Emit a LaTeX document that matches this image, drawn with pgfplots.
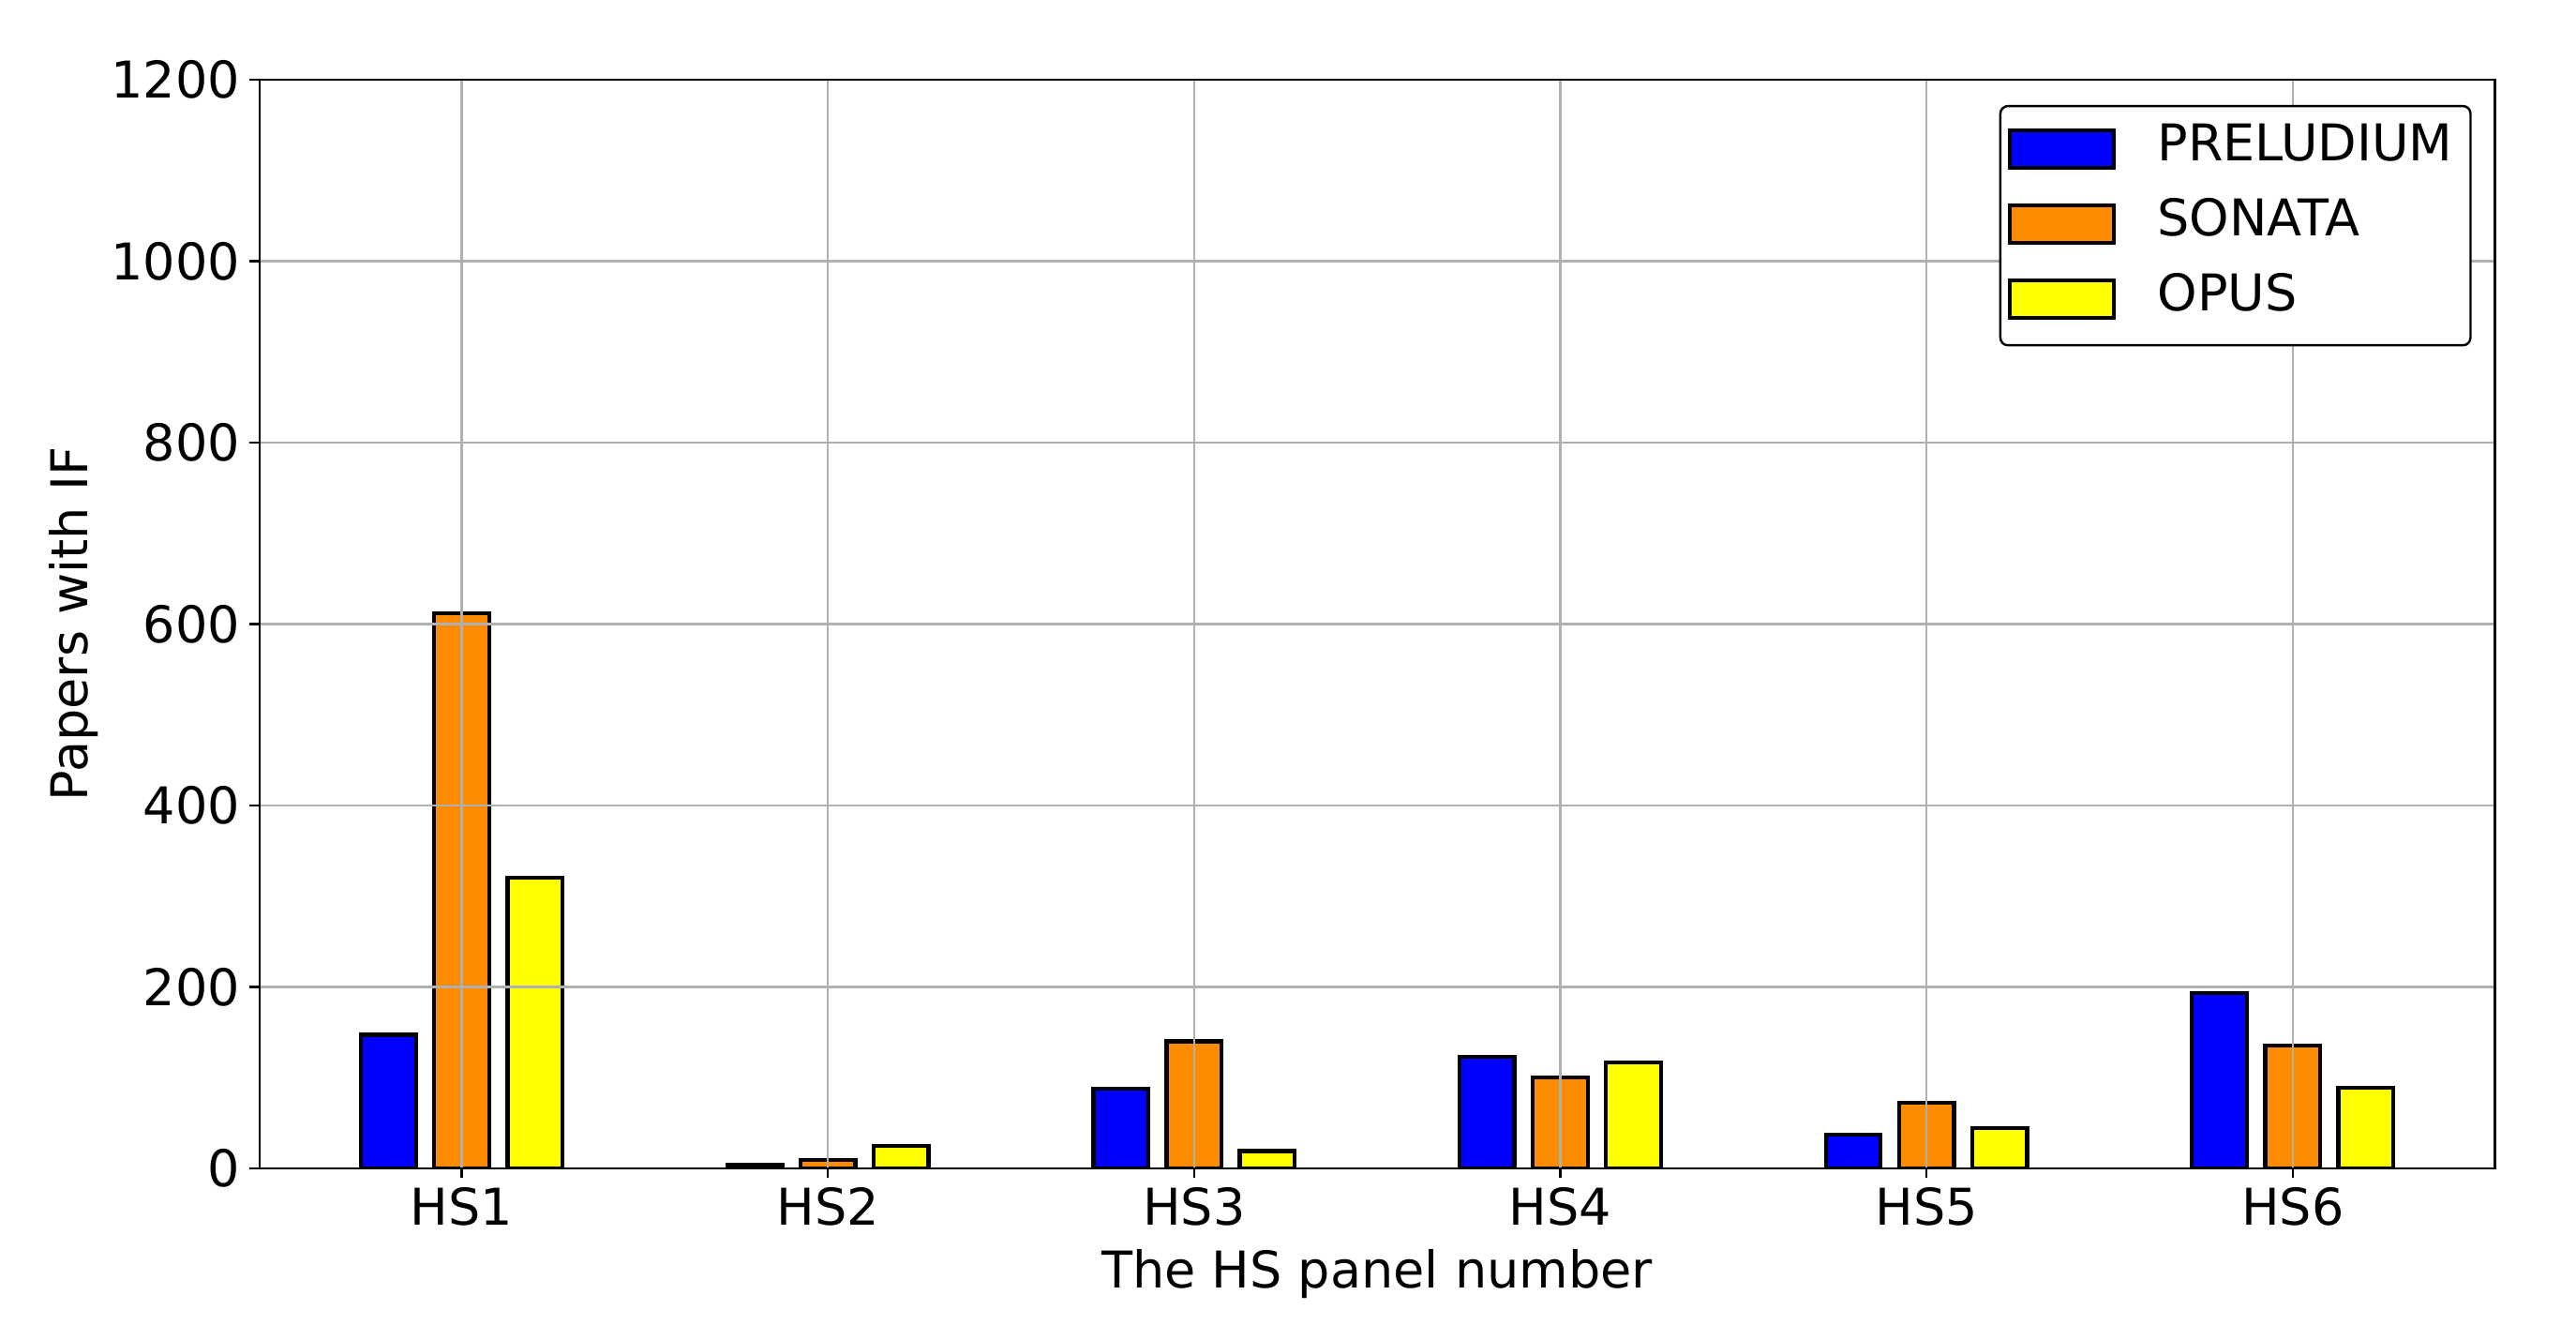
\documentclass[border=0pt]{standalone}
\usepackage{fontspec}
\setmainfont{DejaVu Sans}
\usepackage{pgfplots}
\pgfplotsset{compat=1.18}

\definecolor{barblue}{HTML}{0000FF}
\definecolor{barorange}{HTML}{FF8C00}
\definecolor{baryellow}{HTML}{FFFF00}
\definecolor{gridgray}{HTML}{B0B0B0}

\begin{document}
\begin{tikzpicture}
% fixed page size, matches the reference margins
\useasboundingbox (-51.2pt,-30.9pt) rectangle (457.2pt,230.5pt);
\begin{axis}[
    scale only axis, width=441.2pt, height=214.8pt,
    xmin=-0.5525, xmax=5.5525, ymin=0, ymax=1200,
    ytick={0,200,...,1200},
    xtick={0,1,2,3,4,5},
    xticklabels={HS1,HS2,HS3,HS4,HS5,HS6},
    xtick pos=bottom, ytick pos=left,
    tick align=outside, major tick length=1.94pt,
    tick style={black, line width=0.45pt},
    axis line style={line width=0.45pt},
    grid=major, grid style={gridgray, line width=0.45pt},
    axis on top,
    font=\fontsize{10}{12}\selectfont,
    tick label style={font=\fontsize{10}{12}\selectfont},
    label style={font=\fontsize{10}{12}\selectfont},
    xticklabel shift=-1.6pt, yticklabel shift=-1.6pt,
    xlabel shift=-2.3pt, ylabel shift=-4.4pt,
    /pgf/number format/assume math mode=true,
    /pgf/number format/1000 sep={},
    xlabel={The HS panel number},
    ylabel={Papers with IF},
    ybar, bar width=0.15, bar shift=0pt,
    every axis plot post/.append style={draw=black, line width=0.8pt,
        /pgfplots/legend image code/.code={
            \draw[##1, sharp corners, line width=0.8pt] (0pt,-3.4pt) rectangle (20.5pt,4.0pt);}},
    legend cell align=left,
    legend style={at={(1,1)}, anchor=north east, xshift=-4.6pt, yshift=-5pt,
        draw=black, line width=0.45pt, rounded corners=1.5pt,
        inner xsep=1.5pt, inner ysep=1.4pt, row sep=0pt, column sep=6.2pt,
        font=\fontsize{10}{12}\selectfont,
        nodes={text height=5.7pt, text depth=1.6pt, inner ysep=3.75pt}},
]
% PRELUDIUM
\addplot[fill=barblue] coordinates {(-0.2,147) (0.8,4) (1.8,88) (2.8,123) (3.8,37) (4.8,193)};
\addlegendentry{PRELUDIUM}
% SONATA
\addplot[fill=barorange] coordinates {(0,612) (1,9) (2,140) (3,100) (4,72) (5,135)};
\addlegendentry{SONATA}
% OPUS
\addplot[fill=baryellow] coordinates {(0.2,320) (1.2,25) (2.2,19) (3.2,117) (4.2,44) (5.2,89)};
\addlegendentry{OPUS}
\end{axis}
\end{tikzpicture}
\end{document}
